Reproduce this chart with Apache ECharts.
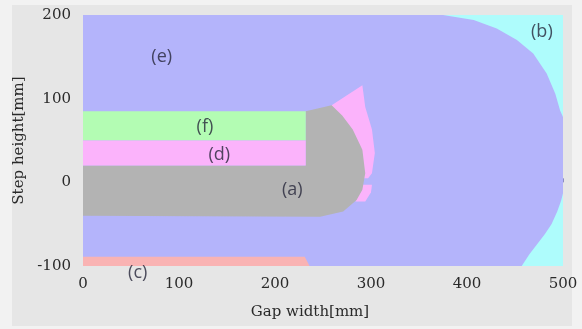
<!DOCTYPE html>
<html>
<head>
<meta charset="utf-8">
<script src="https://cdn.jsdelivr.net/npm/echarts@6/dist/echarts.min.js"></script>
<style>
  html, body { margin: 0; padding: 0; background: #f2f2f2; }
  #main { width: 582px; height: 329px; }
</style>
</head>
<body>
<div id="main"></div>
<script>
// axis ticks
const xTicks = [0, 100, 200, 300, 400, 500];
const yTicks = [-100, 0, 100, 200];

// region boundaries, [gap width mm, step height mm]
const regionE = [[0, -100], [500, -100], [500, 200], [0, 200]];
const regionBTop = [[375, 200], [407, 194], [431, 184], [452, 170], [469, 154], [483, 130], [492, 106], [497, 86], [500, 78], [500, 200]];
const regionBBottom = [[500, -13], [498, -22], [494, -35], [488, -50], [481, -62], [473, -74], [465, -86], [457, -100], [500, -100]];
const regionDFlame = [[259, 92], [275, 104], [291, 116], [294, 90], [301, 63], [304, 35], [301, 11], [297, 5], [280, 5], [259, 60]];
const regionDSmall = [[294, -3], [301, -3], [300, -12], [294, -23], [284, -23], [284, -3]];
const regionA = [[0, 20], [232, 20], [232, 85], [259, 92], [270, 80], [281, 63], [291, 39], [294, 11], [291, -9], [285, -21], [271, -35], [247, -41], [0, -40]];
const regionF = [[0, 50], [232, 50], [232, 85], [0, 85]];
const regionDStrip = [[0, 20], [232, 20], [232, 50], [0, 50]];
const regionC = [[0, -100], [236, -100], [231, -89], [0, -89]];

const regionLabels = [['(e)', 82, 150], ['(b)', 478, 180], ['(f)', 127, 66], ['(d)', 142, 33], ['(a)', 218, -9], ['(c)', 57, -108]];

const chart = echarts.init(document.getElementById('main'));

function polygon(name, pts, color) {
  return {
    type: 'custom',
    name: name,
    data: pts,
    silent: true,
    animation: false,
    clip: true,
    renderItem: function (params, api) {
      if (params.dataIndex !== 0) return;
      return {
        type: 'polygon',
        shape: { points: pts.map(p => api.coord(p)) },
        style: { fill: color }
      };
    }
  };
}

const tickFont = { fontFamily: 'DejaVu Serif', fontSize: 15, color: '#2a2a2a' };

chart.setOption({
  backgroundColor: '#f2f2f2',
  animation: false,
  graphic: [{
    type: 'rect', z: -10, silent: true,
    shape: { x: 12, y: 5, width: 560, height: 321 },
    style: { fill: '#e6e6e6' }
  }],
  grid: { left: 83, right: 19, top: 15, bottom: 63 },
  xAxis: {
    type: 'value', min: 0, max: 500, interval: 100,
    name: 'Gap width[mm]', nameLocation: 'middle', nameGap: 39,
    nameTextStyle: { fontFamily: 'DejaVu Serif', fontSize: 15, color: '#2a2a2a', padding: [0, 26, 0, 0] },
    axisLine: { show: false },
    axisTick: { show: true, inside: true, length: 4, lineStyle: { color: '#8c8cc0' } },
    minorTick: { show: true, splitNumber: 2, length: 4, lineStyle: { color: '#8c8cc0' } },
    splitLine: { show: false },
    axisLabel: Object.assign({ margin: 11, formatter: v => xTicks.includes(v) ? String(v) : '' }, tickFont)
  },
  yAxis: {
    type: 'value', min: -100, max: 200, interval: 100,
    name: 'Step height[mm]', nameLocation: 'middle', nameGap: 47,
    nameTextStyle: { fontFamily: 'DejaVu Serif', fontSize: 15, color: '#2a2a2a' },
    axisLine: { show: false },
    axisTick: { show: false },
    splitLine: { show: false },
    axisLabel: Object.assign({ margin: 12, formatter: v => yTicks.includes(v) ? String(v) : '' }, tickFont)
  },
  series: [
    polygon('e', regionE, '#b4b4fb'),
    polygon('b1', regionBTop, '#aefcfc'),
    polygon('b2', regionBBottom, '#aefcfc'),
    polygon('d1', regionDFlame, '#fbb3fb'),
    polygon('d2', regionDSmall, '#fbb3fb'),
    polygon('a', regionA, '#b3b3b3'),
    polygon('f', regionF, '#b3fcb3'),
    polygon('d3', regionDStrip, '#fbb3fb'),
    polygon('c', regionC, '#f9b3b3'),
    {
      type: 'scatter',
      symbolSize: 0,
      clip: false,
      silent: true,
      z: 10,
      data: regionLabels.map(l => ({ name: l[0], value: [l[1], l[2]] })),
      label: {
        show: true, position: 'inside', formatter: '{b}',
        fontFamily: 'Open Sans', fontSize: 18, color: '#26263a'
      }
    }
  ]
});
</script>
</body>
</html>
